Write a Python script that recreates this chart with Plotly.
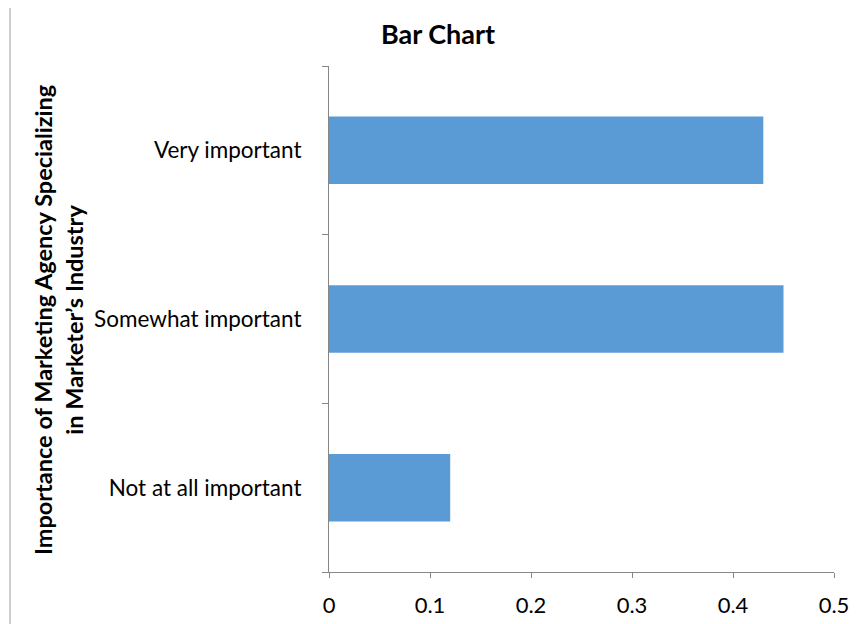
import plotly.graph_objects as go

# -----------------------------------------------------------------------------
# Data
# -----------------------------------------------------------------------------
categories = ["Not at all important", "Somewhat important", "Very important"]
shares = [0.12, 0.45, 0.43]
x_ticks = [0, 0.1, 0.2, 0.3, 0.4, 0.5]
x_tick_labels = ["0", "0.1", "0.2", "0.3", "0.4", "0.5"]

title_text = "Bar Chart"
y_title = "Importance of Marketing Agency Specializing<br>in Marketer\u2019s Industry"

FONT = "Lato, 'Open Sans', sans-serif"
AXIS_GRAY = "#868686"

# the page body adds an 8px offset, so the figure is sized/positioned for that
OFF = 8
W, H = 862 - OFF, 624 - OFF
# plot area edges in page pixels
PX_LEFT, PX_RIGHT, PX_TOP, PX_BOTTOM = 329, 834, 66, 572
L, T = PX_LEFT - OFF, PX_TOP - OFF
R, B = W - (PX_RIGHT - OFF), H - (PX_BOTTOM - OFF)
pw, ph = PX_RIGHT - PX_LEFT, PX_BOTTOM - PX_TOP


def px_x(x):
    return (x - PX_LEFT) / pw


def px_y(y):
    return (PX_BOTTOM - y) / ph


fig = go.Figure(
    go.Bar(
        x=shares,
        y=categories,
        orientation="h",
        marker=dict(color="#5B9BD5", line=dict(width=0)),
        hoverinfo="x+y",
    )
)

fig.update_layout(
    width=W,
    height=H,
    margin=dict(l=L, r=R, t=T, b=B, autoexpand=False),
    paper_bgcolor="white",
    plot_bgcolor="white",
    bargap=0.6,
    showlegend=False,
    font=dict(family=FONT, color="black"),
    title=dict(
        text=f"<b>{title_text}</b>",
        x=px_x(438),
        xref="paper",
        xanchor="center",
        y=1 - (35 - OFF) / H,
        yanchor="middle",
        font=dict(size=27, family=FONT, color="black"),
    ),
)

fig.update_xaxes(
    range=[0, 0.5],
    tickvals=x_ticks,
    ticktext=x_tick_labels,
    showgrid=False,
    zeroline=False,
    showline=True,
    linecolor=AXIS_GRAY,
    linewidth=1,
    ticks="outside",
    ticklen=5,
    tickcolor=AXIS_GRAY,
    tickfont=dict(size=22, family=FONT),
    ticklabelstandoff=9,
    automargin=False,
)

fig.update_yaxes(
    categoryorder="array",
    categoryarray=categories,
    tickson="boundaries",
    showgrid=False,
    zeroline=False,
    showline=True,
    linecolor=AXIS_GRAY,
    linewidth=1,
    ticks="outside",
    ticklen=6,
    tickcolor=AXIS_GRAY,
    tickfont=dict(size=22.5, family=FONT),
    ticklabelstandoff=22,
    automargin=False,
)

# rotated two-line axis title
fig.add_annotation(
    text=f"<b>{y_title}</b>",
    xref="paper",
    yref="paper",
    x=px_x(58),
    y=px_y(320),
    textangle=-90,
    showarrow=False,
    xanchor="center",
    yanchor="middle",
    font=dict(size=23.5, family=FONT, color="black"),
)

# chart frame (only left and top edges visible in the crop)
fig.add_shape(
    type="rect",
    xref="paper",
    yref="paper",
    x0=px_x(10),
    x1=px_x(900),
    y0=px_y(660),
    y1=px_y(4),
    line=dict(color="#BFBFBF", width=1.5),
    layer="below",
)

fig.write_html("out.html")
